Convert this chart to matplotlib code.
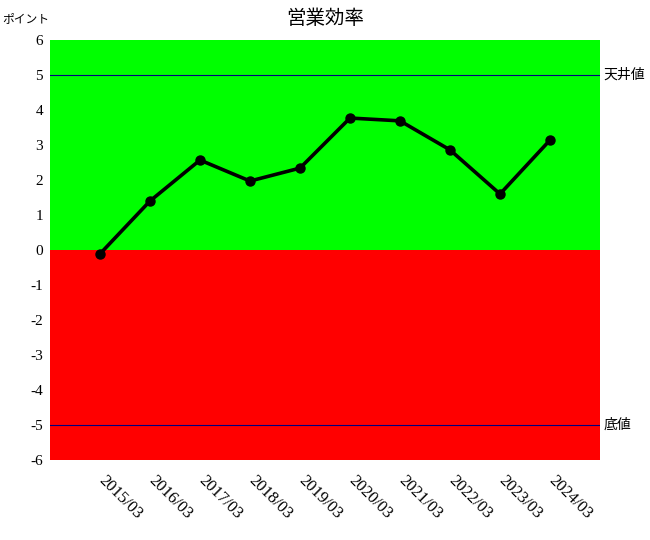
import matplotlib
matplotlib.use("Agg")
import matplotlib.pyplot as plt

# data
periods = ["2015/03", "2016/03", "2017/03", "2018/03", "2019/03",
           "2020/03", "2021/03", "2022/03", "2023/03", "2024/03"]
values = [-0.11, 1.40, 2.57, 1.97, 2.34, 3.77, 3.69, 2.86, 1.60, 3.14]
ceiling, floor_ = 5, -5
y_min, y_max = -6, 6

JP = ["Noto Sans CJK JP", "DejaVu Sans"]
NUM = ["Liberation Serif", "DejaVu Serif"]

fig = plt.figure(figsize=(6.5, 5.4), dpi=100)
ax = fig.add_axes([50 / 650, 1 - 460 / 540, 550 / 650, 420 / 540])

xs = list(range(1, len(periods) + 1))
ax.set_xlim(0, len(periods) + 1)
ax.set_ylim(y_min, y_max)

ax.axhspan(0, y_max, color="#00ff00", zorder=0, lw=0)
ax.axhspan(y_min, 0, color="#ff0000", zorder=0, lw=0)
ax.axhline(ceiling, color="#000080", lw=0.8, zorder=1)
ax.axhline(floor_, color="#000080", lw=0.8, zorder=1)

ax.plot(xs, values, color="black", lw=2.6, marker="o", markersize=6.5, zorder=3)

for s in ax.spines.values():
    s.set_visible(False)
ax.tick_params(length=0)

ax.set_yticks(range(y_min, y_max + 1))
ax.set_yticklabels([str(v) for v in range(y_min, y_max + 1)], fontsize=11, family=NUM)
ax.tick_params(axis="y", pad=5)

ax.set_xticks(xs)
ax.set_xticklabels([])
for x, lab in zip(xs, periods):
    ax.annotate(lab, xy=(x, y_min), xytext=(1, -13), textcoords="offset points",
                rotation=-45, rotation_mode="anchor", ha="left", va="center",
                fontsize=12, family=NUM)

ax.text(1.006, ceiling, "天井値", transform=ax.get_yaxis_transform(), va="center",
        ha="left", fontsize=10, family=JP)
ax.text(1.006, floor_, "底値", transform=ax.get_yaxis_transform(), va="center",
        ha="left", fontsize=10, family=JP)

fig.text(325 / 650, 1 - 18 / 540, "営業効率", ha="center", va="center", fontsize=14, family=JP)
fig.text(2 / 650, 1 - 19 / 540, "ポイント", ha="left", va="center", fontsize=8.5, family=JP)

fig.savefig("out.png", dpi=100)
